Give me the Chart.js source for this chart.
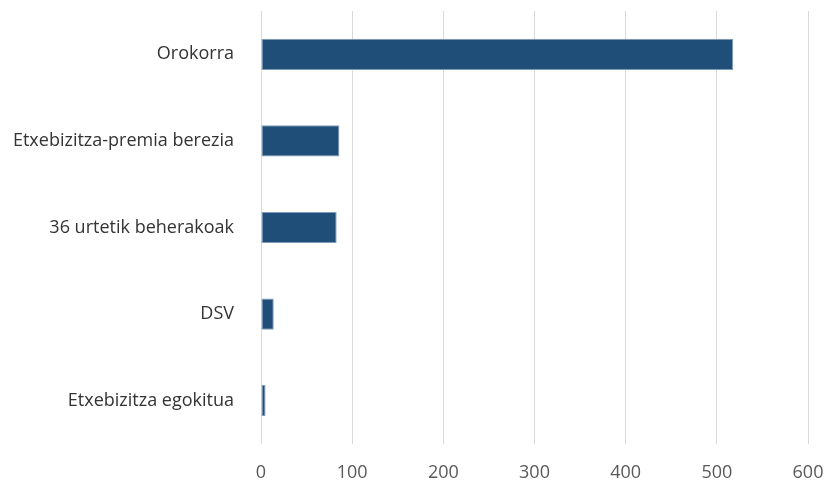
<!DOCTYPE html>
<html>
<head>
<meta charset="utf-8">
<script src="https://cdn.jsdelivr.net/npm/chart.js@4"></script>
<style>
  html, body { margin: 0; padding: 0; background: #fff; overflow: hidden; }
  canvas { display: block; }
</style>
</head>
<body>
<canvas id="chart" width="826" height="480"></canvas>
<script>
// categories and values
const categories = ['Orokorra', 'Etxebizitza-premia berezia', '36 urtetik beherakoak', 'DSV', 'Etxebizitza egokitua'];
const values = [518, 86, 83, 14, 5];
const xTicks = [0, 100, 200, 300, 400, 500, 600];

const ctx = document.getElementById('chart').getContext('2d');
new Chart(ctx, {
  type: 'bar',
  data: {
    labels: categories,
    datasets: [{
      data: values,
      backgroundColor: '#1F4E79',
      borderColor: '#7f9cbb',
      borderWidth: 1,
      borderSkipped: false,
      barPercentage: 0.36,
      categoryPercentage: 1.0
    }]
  },
  options: {
    indexAxis: 'y',
    responsive: false,
    devicePixelRatio: 1,
    animation: false,
    layout: { padding: { left: 0, right: 18, top: 11, bottom: 0 } },
    plugins: {
      legend: { display: false },
      tooltip: { enabled: false }
    },
    scales: {
      x: {
        min: 0,
        max: 600,
        afterBuildTicks: (scale) => { scale.ticks = xTicks.map(v => ({ value: v })); },
        afterFit: (scale) => {
          scale.height = 36;
          scale.paddingLeft = 0;
          scale.paddingRight = 0;
        },
        grid: { color: '#d9d9d9', lineWidth: 1, drawTicks: false },
        border: { display: false },
        ticks: {
          color: '#595959',
          padding: 18,
          font: { family: 'Open Sans', size: 18 }
        }
      },
      y: {
        afterFit: (scale) => {
          scale.width = 261;
          scale.paddingTop = 0;
          scale.paddingBottom = 0;
        },
        grid: { display: false },
        border: { display: false },
        ticks: {
          color: '#333333',
          padding: 19,
          font: { family: 'Open Sans', size: 18 }
        }
      }
    }
  }
});
</script>
</body>
</html>
